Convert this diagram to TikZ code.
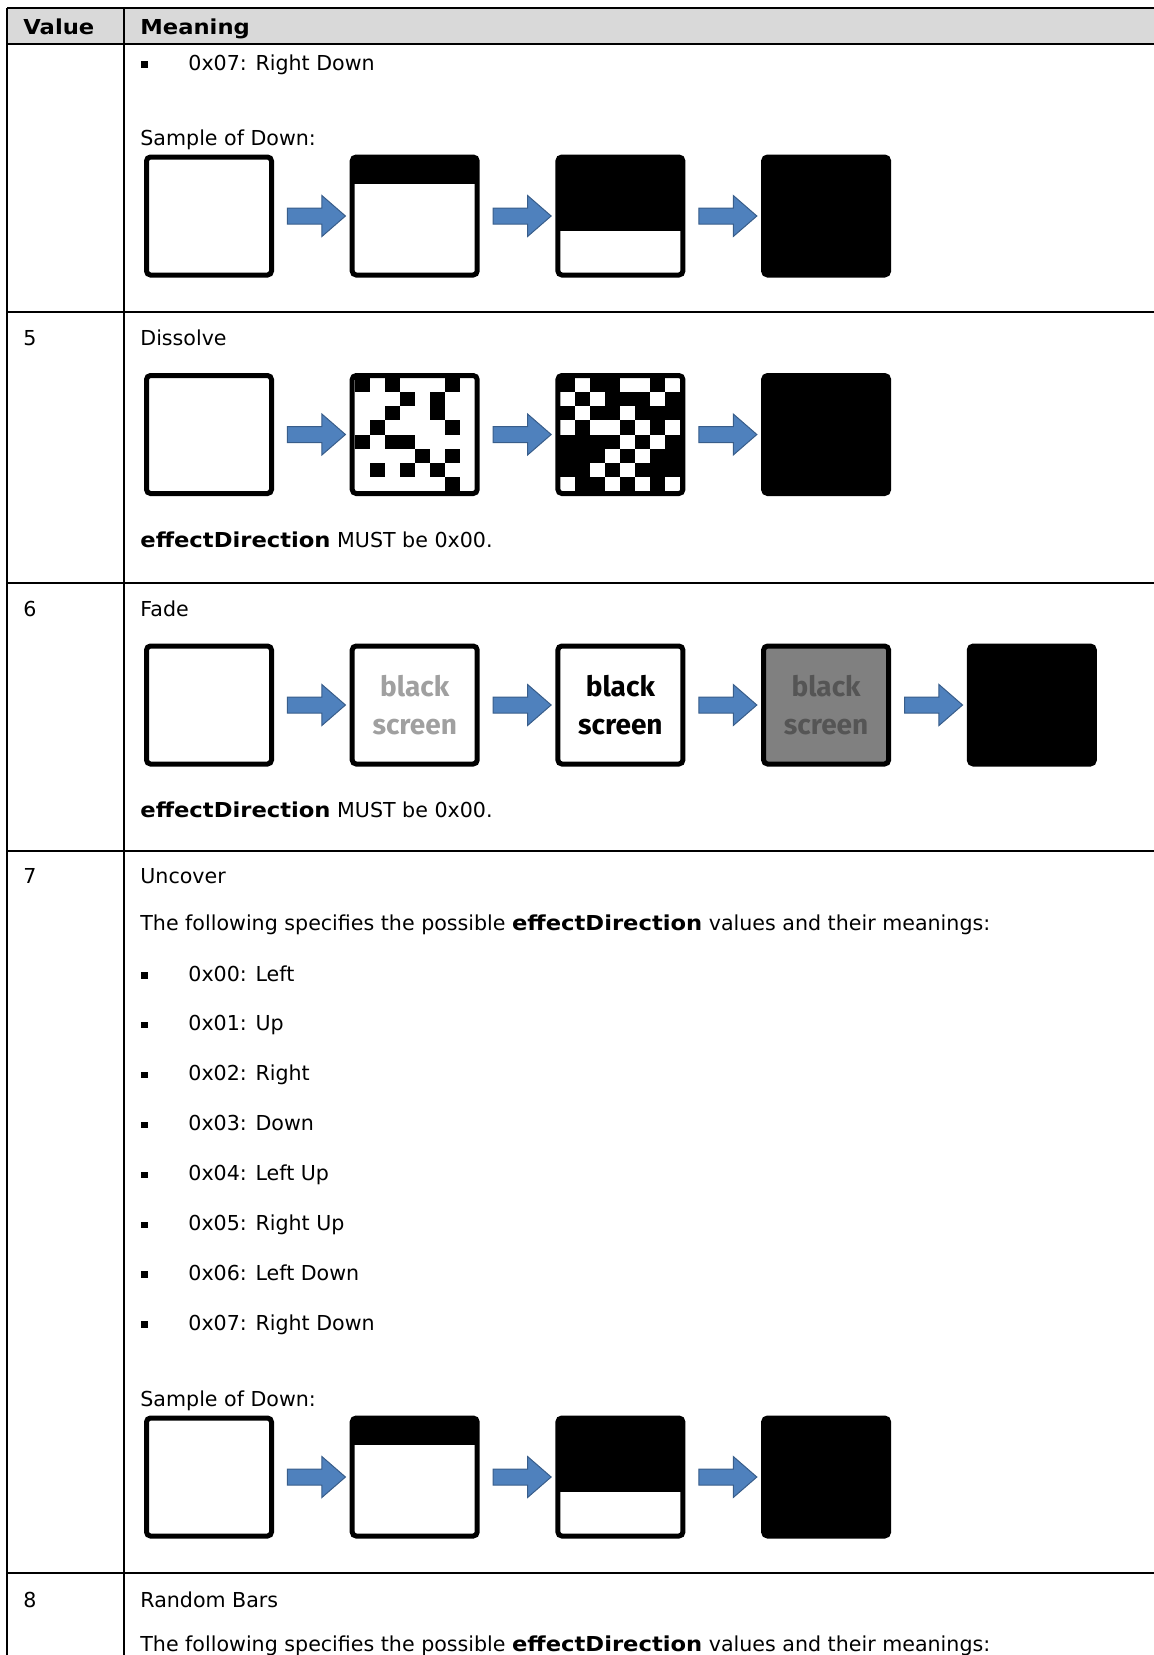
\documentclass[tikz,border=0pt]{standalone}
\usepackage{fontspec}
\setmainfont{DejaVu Sans}[BoldFeatures={FakeStretch=1.1}]
\newfontfamily\screenfont{Fira Sans}
\usetikzlibrary{positioning}
\usetikzlibrary{shapes.arrows}

\definecolor{hdrgray}{RGB}{217,217,217}
\definecolor{flowblue}{RGB}{79,129,189}
\definecolor{flowedge}{RGB}{56,93,138}
\definecolor{fadegray}{RGB}{128,128,128}
\definecolor{palegray}{RGB}{160,160,160}
\definecolor{darkgray}{RGB}{85,85,85}

\begin{document}
\begin{tikzpicture}[x=0.5pt,y=-0.5pt,node distance=37.85pt,
  txt/.style={anchor=base west,inner sep=0,font=\fontsize{10.3}{12}\selectfont},
  hd/.style={txt,font=\fontsize{10.3}{12}\selectfont\bfseries},
  blt/.style={anchor=south west,fill=black,inner sep=0,minimum size=3.2pt},
  scr/.style={draw=black,fill=white,line width=2.5pt,rounded corners=2pt,
    minimum width=62.5pt,minimum height=59pt,inner sep=0},
  band/.style={path picture={\fill[black,sharp corners] (path picture bounding box.north west)
    rectangle ([yshift=-#1]path picture bounding box.north east);}},
  dots/.style={path picture={\foreach \cx/\ry in {#1}
    \fill[black,sharp corners] ([xshift=1.25pt+7.5pt*\cx,yshift=-1.25pt-7.0625pt*\ry]
      path picture bounding box.north west) rectangle ++(7.5pt,-7.0625pt);}},
  holes/.style={fill=black,path picture={\foreach \cx/\ry in {#1}
    \fill[white,sharp corners] ([xshift=1.25pt+7.5pt*\cx,yshift=-1.25pt-7.0625pt*\ry]
      path picture bounding box.north west) rectangle ++(7.5pt,-7.0625pt);}},
  words/.style={scr,text=#1,align=center,
    font=\screenfont\bfseries\fontsize{14}{19}\selectfont},
  flow/.style={single arrow,fill=flowblue,draw=flowedge,line width=0.5pt,
    inner sep=0,inner ysep=3.75pt,single arrow head extend=6.25pt,
    single arrow tip angle=82,minimum height=29pt},
  rule/.style={line width=0.9pt}]

\useasboundingbox (0,0) rectangle (1154,1655);
\clip (0,0) rectangle (1154,1655);

% table frame
\fill[hdrgray] (7,8) rectangle (1154,44);
\draw[line width=0.6pt] (7,8) -- (1154,8);
\draw[line width=1.3pt] (7,44) -- (1154,44);
\foreach \y in {312,583,851,1573}
  \draw[rule] (7,\y) -- (1154,\y);
\draw[rule] (7,8) -- (7,1655);
\draw[rule] (124,8) -- (124,1655);

% header
\node[hd] (hv) at (23,34) {Value};
\node[hd] (hm) at (140,34) {Meaning};

% row: end of down
\node[blt] (p0) at (141,68) {};
\node[txt] (t0) at (188,70) {0x07: Right Down};
\node[txt] (s1) at (140,145) {Sample of Down:};
\node[scr] (u1) at (209,216) {};
\node[scr,band=13.25pt,right=of u1] (u2) {};
\node[scr,band=36.75pt,right=of u2] (u3) {};
\node[scr,fill=black,right=of u3] (u4) {};
\path (u1) -- node[flow] (ua1) {} (u2);
\path (u2) -- node[flow] (ua2) {} (u3);
\path (u3) -- node[flow] (ua3) {} (u4);

% row 5
\node[txt] (v5) at (23,345) {5};
\node[txt] (m5) at (140,345) {Dissolve};
\node[scr] (d1) at (209,434.5) {};
\node[scr,right=of d1,dots={0/0,2/0,6/0,3/1,5/1,2/2,5/2,1/3,6/3,0/4,2/4,3/4,
  4/5,6/5,1/6,3/6,5/6,6/7}] (d2) {};
\node[scr,right=of d2,holes={1/0,4/0,5/0,7/0,0/1,2/1,6/1,1/2,4/2,0/3,2/3,3/3,
  5/3,7/3,4/4,6/4,3/5,5/5,2/6,4/6,0/7,3/7,5/7,7/7}] (d3) {};
\node[scr,fill=black,right=of d3] (d4) {};
\path (d1) -- node[flow] (da1) {} (d2);
\path (d2) -- node[flow] (da2) {} (d3);
\path (d3) -- node[flow] (da3) {} (d4);
\node[txt] (n5) at (140,547) {\textbf{effectDirection} MUST be 0x00.};

% row 6
\node[txt] (v6) at (23,616) {6};
\node[txt] (m6) at (140,616) {Fade};
\node[scr] (f1) at (209,705) {};
\node[words=palegray,right=of f1] (f2) {black\\screen};
\node[words=black,right=of f2] (f3) {black\\screen};
\node[words=darkgray,fill=fadegray,right=of f3] (f4) {black\\screen};
\node[scr,fill=black,right=of f4] (f5) {};
\path (f1) -- node[flow] (fa1) {} (f2);
\path (f2) -- node[flow] (fa2) {} (f3);
\path (f3) -- node[flow] (fa3) {} (f4);
\path (f4) -- node[flow] (fa4) {} (f5);
\node[txt] (n6) at (140,817) {\textbf{effectDirection} MUST be 0x00.};

% row 7
\node[txt] (v7) at (23,883) {7};
\node[txt] (m7) at (140,883) {Uncover};
\node[txt] (l7) at (140,930)
  {The following specifies the possible \textbf{effectDirection} values and their meanings:};
\foreach \v/\w [count=\i] in {00/Left,01/Up,02/Right,03/Down,04/Left Up,
    05/Right Up,06/Left Down,07/Right Down}{
  \node[blt] (q\i) at (141,{979+49.86*(\i-1)}) {};
  \node[txt] (k\i) at (188,{981+49.86*(\i-1)}) {0x\v: \w};
}
\node[txt] (s7) at (140,1406) {Sample of Down:};
\node[scr] (w1) at (209,1477) {};
\node[scr,band=13.25pt,right=of w1] (w2) {};
\node[scr,band=36.75pt,right=of w2] (w3) {};
\node[scr,fill=black,right=of w3] (w4) {};
\path (w1) -- node[flow] (wa1) {} (w2);
\path (w2) -- node[flow] (wa2) {} (w3);
\path (w3) -- node[flow] (wa3) {} (w4);

% row 8
\node[txt] (v8) at (23,1607) {8};
\node[txt] (m8) at (140,1607) {Random Bars};
\node[txt] (l8) at (140,1651)
  {The following specifies the possible \textbf{effectDirection} values and their meanings:};

\end{tikzpicture}
\end{document}
